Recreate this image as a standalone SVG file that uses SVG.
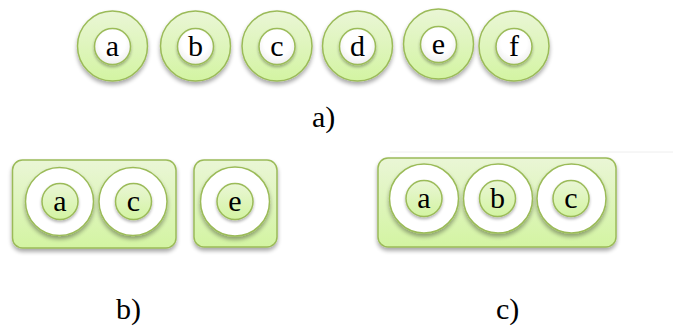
<svg xmlns="http://www.w3.org/2000/svg" width="673" height="327" viewBox="0 0 673 327">
<defs>
<linearGradient id="gG" x1="0" y1="0" x2="0" y2="1">
<stop offset="0" stop-color="#eaf6d6"/>
<stop offset="1" stop-color="#d3f4a2"/>
</linearGradient>
<radialGradient id="gW" cx="0.5" cy="0.4" r="0.6">
<stop offset="0.6" stop-color="#ffffff"/>
<stop offset="1" stop-color="#eeeeee"/>
</radialGradient>
<filter id="sh" x="-30%" y="-30%" width="160%" height="170%">
<feGaussianBlur in="SourceAlpha" stdDeviation="2"/>
<feOffset dy="3" result="b"/>
<feComponentTransfer><feFuncA type="linear" slope="0.35"/></feComponentTransfer>
<feMerge><feMergeNode/><feMergeNode in="SourceGraphic"/></feMerge>
</filter>
<filter id="shs" x="-30%" y="-30%" width="160%" height="170%">
<feGaussianBlur in="SourceAlpha" stdDeviation="1.5"/>
<feOffset dy="2" result="b"/>
<feComponentTransfer><feFuncA type="linear" slope="0.3"/></feComponentTransfer>
<feMerge><feMergeNode/><feMergeNode in="SourceGraphic"/></feMerge>
</filter>
</defs>
<style>
.og{fill:url(#gG);stroke:#9bbb59;stroke-width:1.5}
.ow{fill:#ffffff;stroke:#9bbb59;stroke-width:1.5}
.iw{fill:url(#gW);stroke:#9bbb59;stroke-width:1.5}
.ig{fill:url(#gG);stroke:#9bbb59;stroke-width:1.5}
</style>
<g font-family="Liberation Serif, DejaVu Serif, serif" font-size="30" fill="#000">
<g id="top" text-anchor="middle">
<g id="na"><circle class="og" cx="112.5" cy="46" r="35" filter="url(#sh)"/><circle class="iw" cx="112.5" cy="46.5" r="18" filter="url(#shs)"/><text x="112.5" y="56">a</text></g>
<g id="nb"><circle class="og" cx="195.5" cy="46" r="35" filter="url(#sh)"/><circle class="iw" cx="195.5" cy="46.5" r="18" filter="url(#shs)"/><text x="195.5" y="56">b</text></g>
<g id="nc"><circle class="og" cx="277" cy="46" r="35" filter="url(#sh)"/><circle class="iw" cx="277" cy="46.5" r="18" filter="url(#shs)"/><text x="277" y="56">c</text></g>
<g id="nd"><circle class="og" cx="357.5" cy="46" r="35" filter="url(#sh)"/><circle class="iw" cx="357.5" cy="46.5" r="18" filter="url(#shs)"/><text x="357.5" y="56">d</text></g>
<g id="ne"><circle class="og" cx="438.5" cy="44" r="35" filter="url(#sh)"/><circle class="iw" cx="438.5" cy="44.5" r="18" filter="url(#shs)"/><text x="438.5" y="54">e</text></g>
<g id="nf"><circle class="og" cx="514" cy="46" r="35" filter="url(#sh)"/><circle class="iw" cx="514" cy="46.5" r="18" filter="url(#shs)"/><text x="514" y="56">f</text></g>
</g>
<text x="312" y="127">a)</text>
<g id="b1" text-anchor="middle">
<rect class="og" x="12.5" y="160" width="163.5" height="88" rx="10" filter="url(#sh)"/>
<circle class="ow" cx="59.5" cy="201.5" r="34" filter="url(#sh)"/><circle class="ig" cx="60" cy="201.5" r="18" filter="url(#shs)"/><text x="60" y="211">a</text>
<circle class="ow" cx="133" cy="201.5" r="34" filter="url(#sh)"/><circle class="ig" cx="133.5" cy="201.5" r="18" filter="url(#shs)"/><text x="133.5" y="211">c</text>
</g>
<g id="b2" text-anchor="middle">
<rect class="og" x="194" y="160" width="83" height="87" rx="10" filter="url(#sh)"/>
<circle class="ow" cx="235" cy="201.5" r="34.5" filter="url(#sh)"/><circle class="ig" cx="235" cy="201.5" r="18" filter="url(#shs)"/><text x="235" y="211">e</text>
</g>
<text x="116" y="319">b)</text>
<line x1="390" y1="152" x2="673" y2="152" stroke="#eeeeee" stroke-width="1"/>
<g id="c1" text-anchor="middle">
<rect class="og" x="378" y="158" width="238" height="89" rx="10" filter="url(#sh)"/>
<circle class="ow" cx="424" cy="198.5" r="34.5" filter="url(#sh)"/><circle class="ig" cx="424" cy="198.5" r="18" filter="url(#shs)"/><text x="424" y="208">a</text>
<circle class="ow" cx="498" cy="198.5" r="34.5" filter="url(#sh)"/><circle class="ig" cx="497.5" cy="198.5" r="18" filter="url(#shs)"/><text x="497.5" y="208">b</text>
<circle class="ow" cx="571.5" cy="198.5" r="34.5" filter="url(#sh)"/><circle class="ig" cx="571" cy="198.5" r="18" filter="url(#shs)"/><text x="571" y="208">c</text>
</g>
<text x="496" y="319">c)</text>
</g>
</svg>
